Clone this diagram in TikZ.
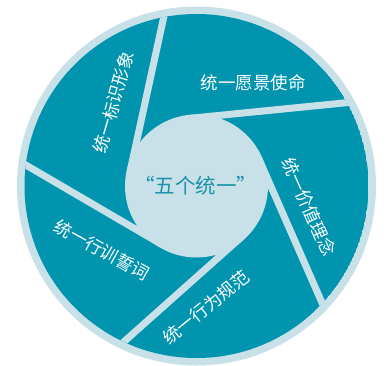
\documentclass[tikz,border=0pt]{standalone}
\usepackage{fontspec}
\newfontfamily\cjk{Noto Sans CJK SC}
\definecolor{bladecol}{RGB}{0,148,174}
\definecolor{lightcol}{RGB}{200,225,233}
\definecolor{centercol}{RGB}{30,145,170}
\tikzset{
  gapband/.style={fill=lightcol},
  bladetext/.style={text=white, font=\cjk\fontsize{17.5}{18}\selectfont, inner sep=0pt},
  centertext/.style={text=centercol, font=\cjk\fontsize{20.5}{21}\selectfont, inner sep=0pt}
}
\begin{document}
\begin{tikzpicture}[x=1pt,y=1pt]
\useasboundingbox (-196.5,-179) rectangle (194.5,186);
\fill[lightcol] (0,0) circle (179.5);
\begin{scope}
  \clip (0,0) circle (172);
  \fill[bladecol] (0,0) circle (172);
  \foreach \k in {0,...,4}{
    \path[gapband, rotate=77.7-72*\k] (0,71.5) -- (300,71.5) -- (300,64.5) -- (0,64.5) -- cycle;
  }
\end{scope}
\fill[lightcol] (0,0) circle (71.5);
\node[bladetext, rotate=0]   (t1) at (57,103)     {统一愿景使命};
\node[bladetext, rotate=-66] (t2) at (112.5,-21)  {统一价值理念};
\node[bladetext, rotate=39]  (t3) at (9.5,-121)   {统一行为规范};
\node[bladetext, rotate=-29] (t4) at (-94.5,-64)  {统一行训誓词};
\node[bladetext, rotate=74]  (t5) at (-83,83.5)   {统一标识形象};
\node[centertext] (c) at (-0.5,0) {“五个统一”};
\end{tikzpicture}
\end{document}
